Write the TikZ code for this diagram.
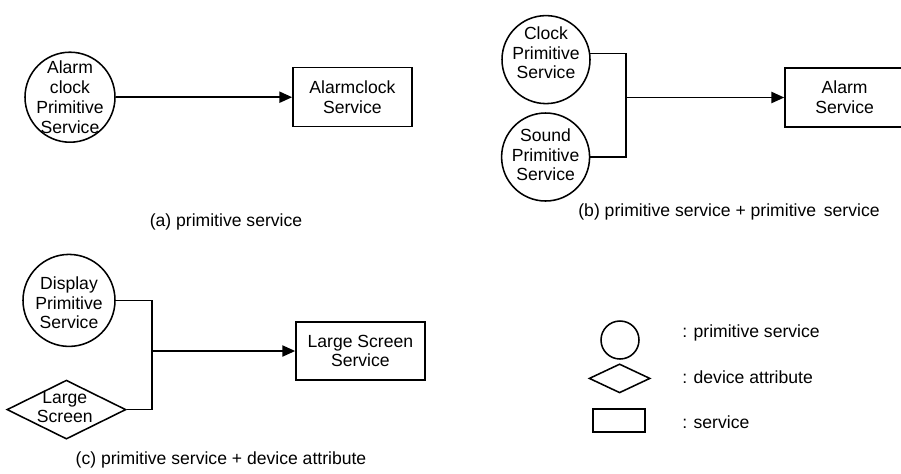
\documentclass[tikz,border=0pt]{standalone}
\usepackage{fontspec}
\setmainfont{Liberation Sans}
\usetikzlibrary{positioning}
\usetikzlibrary{shapes.geometric}
\usetikzlibrary{arrows.meta}

\begin{document}
\begin{tikzpicture}[
    font=\fontsize{12.5}{14}\selectfont,
    prim/.style={draw, circle, line width=1.1pt, inner sep=0pt},
    attr/.style={draw, diamond, line width=1.1pt, inner sep=0pt},
    svc/.style={draw, rectangle, line width=1.1pt, align=center, inner sep=0pt},
    txt/.style={align=center, inner sep=0pt},
    link/.style={line width=1.1pt},
    flow/.style={line width=1.1pt, -{Triangle[length=3.2mm,width=2.8mm]}}
  ]
  \useasboundingbox (0,0) rectangle (22.525,-11.825);

  % (a)
  \node [prim, minimum size=2.25cm] (alarm) at (1.75,-2.43) {};
  \node [txt] (alarmtxt) at (alarm) {Alarm\\clock\\Primitive\\Service};
  \node [svc, minimum width=2.975cm, minimum height=1.475cm] (acsvc) at (8.81,-2.43) {Alarmclock\\Service};
  \draw [flow] (alarm) -- (acsvc);
  \node [txt] (capa) at (5.65,-5.55) {(a) primitive service};

  % (b)
  \node [prim, minimum size=2.2cm] (clock) at (13.65,-1.49) {};
  \node [txt] (clocktxt) at (13.65,-1.32) {Clock\\Primitive\\Service};
  \node [prim, minimum size=2.2cm] (sound) at (13.64,-3.925) {};
  \node [txt] (soundtxt) at (13.64,-3.875) {Sound\\Primitive\\Service};
  \node [svc, minimum width=2.98cm, minimum height=1.475cm] (alsvc) at (21.115,-2.4375) {Alarm\\Service};
  \coordinate (jb) at (15.65,0 |- alsvc.west);
  \draw [link] (clock.8) -| (jb) |- (sound.east);
  \draw [flow] (jb) -- (alsvc.west);
  \node [txt] (capb) at (18.225,-5.3) {(b) primitive service + primitive\, service};

  % (c)
  \node [prim, minimum size=2.3cm] (disp) at (1.725,-7.51) {};
  \node [txt] (disptxt) at (1.725,-7.575) {Display\\Primitive\\Service};
  \node [attr, minimum width=2.975cm, minimum height=1.475cm] (scr) at (1.66,-10.24) {};
  \node [txt] (scrtxt) at (1.62,-10.175) {Large\\Screen};
  \node [svc, minimum width=3.225cm, minimum height=1.45cm] (lssvc) at (9.01,-8.775) {Large Screen\\Service};
  \coordinate (jc) at (3.8,0 |- lssvc.west);
  \draw [link] (disp.east) -| (jc) |- (scr.east);
  \draw [flow] (jc) -- (lssvc.west);
  \node [txt] (capc) at (5.525,-11.5) {(c) primitive service + device attribute};

  % legend
  \node [prim, minimum size=0.95cm] (lgprim) at (15.5,-8.5) {};
  \node [attr, minimum width=1.525cm, minimum height=0.725cm] (lgattr) at (15.49,-9.46) {};
  \node [svc, minimum width=1.3cm, minimum height=0.575cm] (lgsvc) at (15.475,-10.51) {};
  \foreach \name/\y/\lbl in {lgprimtxt/-8.325/primitive service, lgattrtxt/-9.425/device attribute, lgsvctxt/-10.55/service}{
    \node [anchor=west, inner sep=0pt] (\name) at (17.05,\y) {: \lbl};
  }
\end{tikzpicture}
\end{document}
